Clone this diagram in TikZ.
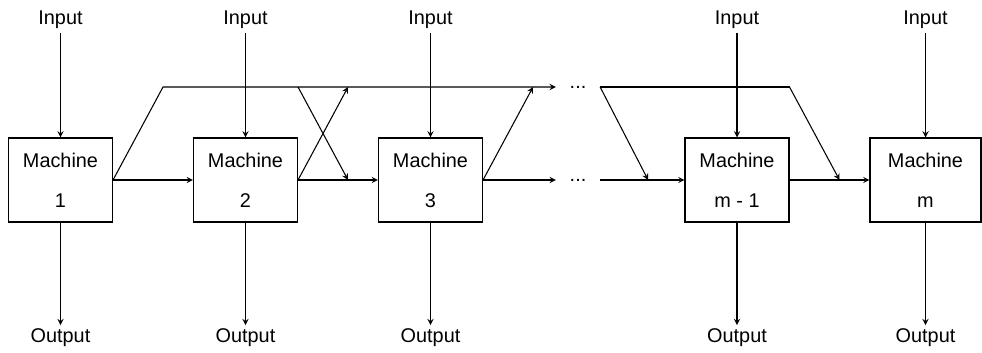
\documentclass[tikz,border=0pt]{standalone}
\usepackage{fontspec}
\setmainfont{Liberation Sans}
\usetikzlibrary{calc}

\begin{document}
\begin{tikzpicture}[node distance=3.7cm]
\tikzstyle{machine} = [rectangle, minimum width=2.08cm, minimum height=1.68cm, text centered, align=center, draw=black, line width=0.6pt, font=\fontsize{11.3}{22.7}\selectfont]
\tikzstyle{io} = [font=\fontsize{11.3}{13.5}\selectfont, inner sep=2pt]
\tikzstyle{dots} = [font=\fontsize{11.3}{13.5}\selectfont, inner xsep=0.27cm, inner ysep=0pt]
\tikzstyle{arrow} = [line width=0.6pt,->,>=stealth]
\tikzstyle{line} = [line width=0.6pt]

\useasboundingbox (-1.21,-3.44) rectangle (18.43,3.6);

% Machines
\node (m1) [machine] {Machine\\1};
\node (m2) [machine, right of=m1] {Machine\\2};
\node (m3) [machine, right of=m2] {Machine\\3};
\node (mm1) [machine, right of=m3, xshift=2.43cm] {Machine\\m - 1};
\node (mm) [machine, right of=mm1, xshift=0.07cm, minimum width=2.22cm] {Machine\\m};

% Dots
\node (dbot) [dots, right of=m3, xshift=-0.75cm] {...};
\node (dtop) [dots, above of=dbot, yshift=-1.84cm] {...};

% Inputs and outputs
\node (in1) [io, above of=m1, yshift=-0.5cm] {Input};
\node (in2) [io, above of=m2, yshift=-0.5cm] {Input};
\node (in3) [io, above of=m3, yshift=-0.5cm] {Input};
\node (inm1) [io, above of=mm1, yshift=-0.5cm] {Input};
\node (inm) [io, above of=mm, yshift=-0.5cm] {Input};
\node (out1) [io, below of=m1, yshift=0.54cm] {Output};
\node (out2) [io, below of=m2, yshift=0.54cm] {Output};
\node (out3) [io, below of=m3, yshift=0.54cm] {Output};
\node (outm1) [io, below of=mm1, yshift=0.54cm] {Output};
\node (outm) [io, below of=mm, yshift=0.54cm] {Output};

% Corners of the bypass lines
\coordinate (t1) at ($(m1.east)+(1,1.86)$);
\coordinate (t2) at ($(m2.east)+(1,1.86)$);
\coordinate (b2) at ($(m2.east)+(1,0)$);
\coordinate (t3) at ($(m3.east)+(1,1.86)$);
\coordinate (tm1) at (mm1.east |- dtop);
\coordinate (bm1) at ($(dbot.east)+(0.96,0)$);
\coordinate (bm) at ($(mm1.east)+(1,0)$);

% Arrows
\draw [arrow] (in1) -- (m1);
\draw [arrow] (in2) -- (m2);
\draw [arrow] (in3) -- (m3);
\draw [arrow] (inm1) -- (mm1);
\draw [arrow] (inm) -- (mm);
\draw [arrow] (m1) -- (out1);
\draw [arrow] (m2) -- (out2);
\draw [arrow] (m3) -- (out3);
\draw [arrow] (mm1) -- (outm1);
\draw [arrow] (mm) -- (outm);

\draw [arrow] (m1) -- (m2);
\draw [arrow] (m1.east) -- (t1) -- (dtop);
\draw [arrow] (m2.east) -- (t2);
\draw [arrow] (m2.east |- dtop) -- (b2);
\draw [arrow] (m2) -- (m3);
\draw [arrow] (m3.east) -- (t3);
\draw [arrow] (m3) -- (dbot);
\draw [line] (dtop) -- (tm1);
\draw [arrow] (dtop.east) -- (bm1);
\draw [arrow] (dbot) -- (mm1);
\draw [arrow] (tm1) -- (bm);
\draw [arrow] (mm1) -- (mm);

\end{tikzpicture}
\end{document}
